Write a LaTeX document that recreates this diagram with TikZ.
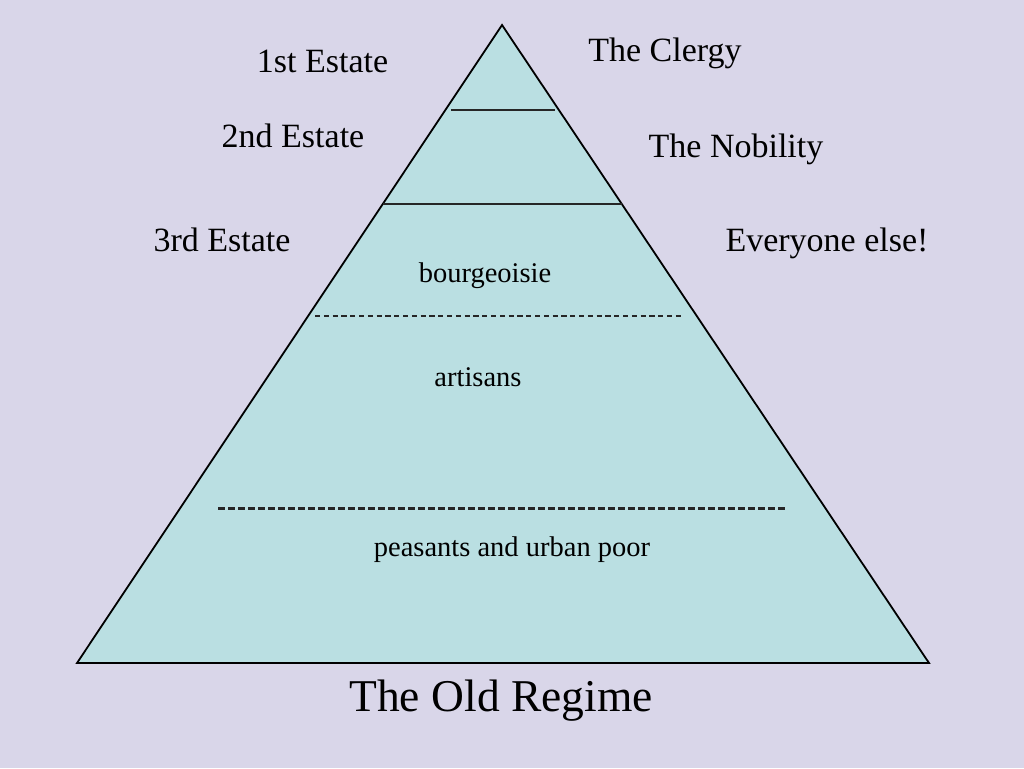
\documentclass[tikz,border=0pt]{standalone}
\usepackage{fontspec}
\setmainfont{Liberation Serif}
\definecolor{bgc}{RGB}{217,214,233}
\definecolor{pyr}{RGB}{186,223,226}
\begin{document}
\begin{tikzpicture}[x=1pt,y=-1pt,
  lbl/.style={inner sep=0pt,anchor=base,font=\fontsize{34}{36}\selectfont},
  small/.style={inner sep=0pt,anchor=base,font=\fontsize{28.5}{30}\selectfont},
  title/.style={inner sep=0pt,anchor=base,font=\fontsize{45.5}{50}\selectfont},
  edge/.style={draw=black,line width=1.8pt}]
\fill[bgc] (0,0) rectangle (1024,768);
\useasboundingbox (0,0) rectangle (1024,768);
\coordinate (apex) at (502,25);
\coordinate (bl) at (77,663);
\coordinate (br) at (929,663);
\filldraw[fill=pyr,edge,line join=miter] (apex) -- (br) -- (bl) -- cycle;
\coordinate (l1a) at (451,110);
\coordinate (l1b) at (555,110);
\draw[line width=1.8pt,draw=black!85] (l1a) -- (l1b);
\coordinate (l2a) at (383,204);
\coordinate (l2b) at (622,204);
\draw[line width=1.8pt,draw=black!85] (l2a) -- (l2b);
\coordinate (d1a) at (315,316);
\coordinate (d1b) at (683,316);
\draw[line width=1.6pt,dash pattern=on 5.2pt off 3.6pt,draw=black!85] (d1a) -- (d1b);
\coordinate (d2a) at (218,508);
\coordinate (d2b) at (787,508);
\draw[line width=3pt,dash pattern=on 7pt off 3pt,draw=black!85] (d2a) -- (d2b);
\node[lbl] (e1) at (322.5,72) {1st Estate};
\node[lbl] (c1) at (665,62) {The Clergy};
\node[lbl] (e2) at (293,147) {2nd Estate};
\node[lbl] (n2) at (736,157) {The Nobility};
\node[lbl] (e3) at (222,251) {3rd Estate};
\node[lbl] (ev) at (827,251) {Everyone else!};
\node[small] (bo) at (485,282) {bourgeoisie};
\node[small] (ar) at (478,386) {artisans};
\node[small] (pe) at (512,556) {peasants and urban poor};
\node[title] (ti) at (501,711) {The Old Regime};
\end{tikzpicture}
\end{document}
